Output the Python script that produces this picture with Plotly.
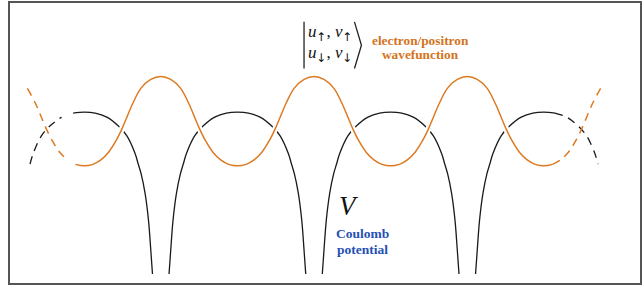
import plotly.graph_objects as go

# ---- data (lattice units: sites at integers) ----
sites = [-2, -1, 0, 1, 2]
# Coulomb potential: half-hump profile, distance from nearest site -> V
pot_dist = [0.054, 0.065, 0.080, 0.102, 0.128, 0.147, 0.167, 0.221, 0.276, 0.352, 0.428, 0.5]
pot_val = [-3.42, -2.89, -2.22, -1.62, -1.18, -0.96, -0.73, -0.33, -0.11, 0.09, 0.18, 0.20]
# wavefunction: half-period profile, distance from site -> amplitude
wave_dist = [0.0, 0.065, 0.130, 0.182, 0.221, 0.254, 0.293, 0.339, 0.391, 0.443, 0.5]
wave_val = [1.0, 0.933, 0.733, 0.40, 0.089, -0.178, -0.444, -0.689, -0.867, -0.967, -1.0]
# visible extent of curves and solid/dashed boundaries
pot_clip, pot_solid = 1.853, 1.572
wave_clip, wave_solid = 1.870, 1.557

BLACK = "#1a1a1a"
ORANGE = "#dc7a22"
ORANGE_TXT = "#d4731c"
BLUE = "#2550b4"


def split(points, clip, solid):
    """Split list of (u, y) or None separators into solid / dashed segments."""
    sol_x, sol_y, das_x, das_y = [], [], [], []
    prev_kind = None
    for p in points:
        if p is None:
            sol_x.append(None); sol_y.append(None)
            das_x.append(None); das_y.append(None)
            prev_kind = None
            continue
        u, v = p
        if abs(u) > clip + 1e-9:
            continue
        kind = "s" if abs(u) <= solid + 1e-9 else "d"
        if prev_kind is not None and kind != prev_kind:
            if kind == "s":
                sol_x.append(u); sol_y.append(v)
                das_x.append(None); das_y.append(None)
            else:
                das_x.append(u); das_y.append(v)
                sol_x.append(None); sol_y.append(None)
            prev_kind = kind
            continue
        if kind == "s":
            sol_x.append(u); sol_y.append(v)
            if abs(abs(u) - solid) < 1e-9:
                das_x.append(u); das_y.append(v)
        else:
            das_x.append(u); das_y.append(v)
        prev_kind = kind
    return sol_x, sol_y, das_x, das_y


# potential humps between neighbouring sites
pot_pts = []
for a, b in zip(sites[:-1], sites[1:]):
    for d, v in zip(pot_dist, pot_val):
        pot_pts.append((a + d, v))
    for d, v in zip(reversed(pot_dist[:-1]), reversed(pot_val[:-1])):
        pot_pts.append((b - d, v))
    pot_pts.append(None)

# wavefunction, continuous
wave_pts = []
for a, b in zip(sites[:-1], sites[1:]):
    for d, v in zip(wave_dist, wave_val):
        wave_pts.append((a + d, v))
    for d, v in zip(reversed(wave_dist[1:-1]), reversed(wave_val[1:-1])):
        wave_pts.append((b - d, v))
wave_pts.append((sites[-1], wave_val[0]))

psx, psy, pdx, pdy = split(pot_pts, pot_clip, pot_solid)
wsx, wsy, wdx, wdy = split(wave_pts, wave_clip, wave_solid)

fig = go.Figure()
line_common = dict(shape="spline", smoothing=1.0)
fig.add_trace(go.Scatter(x=psx, y=psy, mode="lines", hoverinfo="skip",
                         line=dict(color=BLACK, width=1.3, **line_common)))
fig.add_trace(go.Scatter(x=pdx, y=pdy, mode="lines", hoverinfo="skip",
                         line=dict(color=BLACK, width=1.3, dash="8px,6px", **line_common)))
fig.add_trace(go.Scatter(x=wsx, y=wsy, mode="lines", hoverinfo="skip",
                         line=dict(color="white", width=6, **line_common)))
fig.add_trace(go.Scatter(x=wsx, y=wsy, mode="lines", hoverinfo="skip",
                         line=dict(color=ORANGE, width=1.5, **line_common)))
fig.add_trace(go.Scatter(x=wdx, y=wdy, mode="lines", hoverinfo="skip",
                         line=dict(color=ORANGE, width=1.5, dash="8px,6px", **line_common)))

W, H = 643, 286
ML, MR, MT, MB = 10, 2, 1, 3


def px(x):
    return (x - ML) / (W - ML - MR)


def py(y):
    return 1 - (y - MT) / (H - MT - MB)


serif = "Liberation Serif, Times New Roman, serif"
arrow = '<span style="font-family:\'DejaVu Sans\'">{}\ufe0e</span>'
up, dn = arrow.format("\u2191"), arrow.format("\u2193")
ann = [
    dict(x=px(331), y=py(31), text=f"<i>u</i><sub>{up}</sub>, <i>v</i><sub>{up}</sub>",
         font=dict(family=serif, size=17, color="#111")),
    dict(x=px(331), y=py(52), text=f"<i>u</i><sub>{dn}</sub>, <i>v</i><sub>{dn}</sub>",
         font=dict(family=serif, size=17, color="#111")),
    dict(x=px(421), y=py(39), text="<b>electron/positron</b>",
         font=dict(family=serif, size=13.3, color=ORANGE_TXT)),
    dict(x=px(421), y=py(53), text="<b>wavefunction</b>",
         font=dict(family=serif, size=13.3, color=ORANGE_TXT)),
    dict(x=px(350), y=py(205), text="<i>V</i>",
         font=dict(family=serif, size=27, color="#111")),
    dict(x=px(363), y=py(233), text="<b>Coulomb</b>",
         font=dict(family=serif, size=13.5, color=BLUE)),
    dict(x=px(363), y=py(249), text="<b>potential</b>",
         font=dict(family=serif, size=13.5, color=BLUE)),
]
for a in ann:
    a.update(xref="paper", yref="paper", showarrow=False,
             xanchor="center", yanchor="middle")

shapes = [
    dict(type="line", xref="paper", yref="paper", x0=px(304.5), x1=px(304.5),
         y0=py(20), y1=py(67), line=dict(color="#222", width=1.3)),
    dict(type="path", xref="paper", yref="paper",
         path=f"M {px(355)} {py(20)} L {px(362)} {py(43.5)} L {px(355)} {py(67)}",
         line=dict(color="#222", width=1.3)),
]

fig.update_layout(
    width=W, height=H,
    margin=dict(l=ML, r=MR, t=MT, b=MB),
    paper_bgcolor="white", plot_bgcolor="white",
    showlegend=False, hovermode=False,
    annotations=ann, shapes=shapes,
    xaxis=dict(range=[(ML - 314.5) / 153.5, (W - MR - 314.5) / 153.5],
               showgrid=False, zeroline=False, showticklabels=False, ticks="",
               showline=True, mirror=True, linecolor="#555", linewidth=2),
    yaxis=dict(range=[(120 - (H - MB)) / 45, (120 - MT) / 45],
               showgrid=False, zeroline=False, showticklabels=False, ticks="",
               showline=True, mirror=True, linecolor="#555", linewidth=2),
)

fig.write_html(
    "out.html",
    config={"displayModeBar": False},
    post_script="document.body.style.margin='0';document.body.style.overflow='hidden';",
)
